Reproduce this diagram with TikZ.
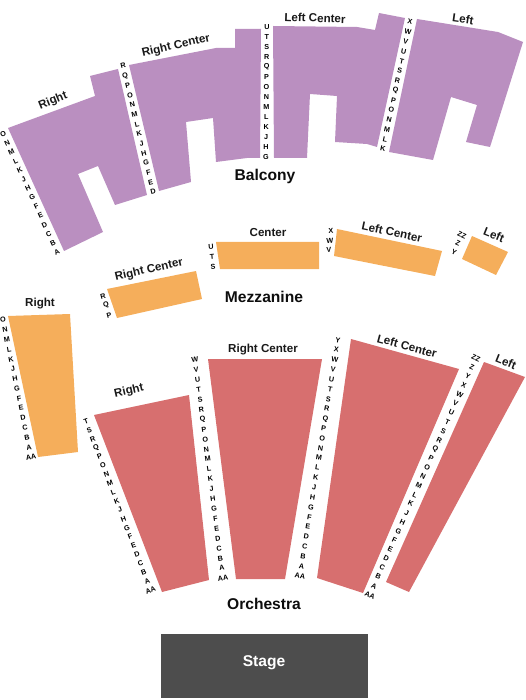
\documentclass[tikz,border=0pt]{standalone}
\usepackage{fontspec}
\setmainfont{Liberation Sans}
\definecolor{balc}{HTML}{BA8FC0}
\definecolor{mezz}{HTML}{F5AE5B}
\definecolor{orch}{HTML}{D76F6F}
\definecolor{stagec}{HTML}{4D4D4D}
\newcommand{\rowlabels}[9]{%
  \foreach \l [count=\i] in {#9} {
    \pgfmathsetmacro{\t}{(\i-1)/(#8-1)}
    \node[rowletter,rotate=#7] (#1-\i) at ({#3+(#5-#3)*\t},{#4+(#6-#4)*\t}) {\l};
  }%
}
\begin{document}
\begin{tikzpicture}[x=1pt,y=-1pt,
  rowletter/.style={inner sep=0pt,font=\fontsize{7.2}{8}\selectfont\bfseries,text=black},
  seclabel/.style={inner sep=0pt,font=\fontsize{11.6}{13}\selectfont\bfseries,text=black!90},
  levellabel/.style={inner sep=0pt,font=\fontsize{15.6}{18}\selectfont\bfseries,text=black!95},
  balcsec/.style={fill=balc,draw=none},
  mezzsec/.style={fill=mezz,draw=none},
  orchsec/.style={fill=orch,draw=none}]
\useasboundingbox (0,0) rectangle (525,700);
% Balcony
\fill[balcsec] (8,128)--(95,96)--(90,76)--(118,69)--(147,195)--(115,205)--(98,166)--(78,174)--(103,232)--(64,251)--cycle;
\fill[balcsec] (129,65)--(216,48)--(235,48)--(235,29)--(261,29)--(260,158)--(247,158)--(216,162)--(213,118)--(186,122)--(191,182)--(159,191)--cycle;
\fill[balcsec] (273,26)--(357,27)--(375,30)--(379,13)--(405,18)--(377,147)--(367,144)--(335,142)--(337,96)--(310,94)--(307,158)--(274,158)--cycle;
\fill[balcsec] (417,19)--(498,32)--(523,42)--(490,147)--(466,142)--(477,105)--(451,97)--(433,160)--(389,152)--cycle;
% Mezzanine
\fill[mezzsec] (107,289)--(196,271)--(202,299)--(117,318)--cycle;
\fill[mezzsec] (216,242)--(319,242)--(319,269)--(220,269)--cycle;
\fill[mezzsec] (337,229)--(442,251)--(435,276)--(334,256)--cycle;
\fill[mezzsec] (472,236)--(508,252)--(496,275)--(462,259)--cycle;
\fill[mezzsec] (8,316)--(70,314)--(78,452)--(38,457)--cycle;
% Orchestra
\fill[orchsec] (94,415)--(189,395)--(209,580)--(162,592)--cycle;
\fill[orchsec] (208,359)--(322,359)--(285,579)--(236,579)--cycle;
\fill[orchsec] (351,339)--(459,369)--(363,593)--(317,578)--cycle;
\fill[orchsec] (484,362)--(525,377)--(409,592)--(386,582)--cycle;
% Stage
\fill[stagec] (161,634) rectangle (368,698);
% Row letters
\rowlabels{ba}{}{3}{134}{57}{252}{25}{14}{O,N,M,L,K,J,H,G,F,E,D,C,B,A}
\rowlabels{bb}{}{123}{66}{153}{192}{13}{14}{R,Q,P,O,N,M,L,K,J,H,G,F,E,D}
\rowlabels{bc}{}{267}{27}{266}{157}{0}{14}{U,T,S,R,Q,P,O,N,M,L,K,J,H,G}
\rowlabels{bd}{}{410}{22}{383}{149}{-12}{14}{X,W,V,U,T,S,R,Q,P,O,N,M,L,K}
\rowlabels{ma}{}{103}{296}{109}{315}{15}{3}{R,Q,P}
\rowlabels{mb}{}{211}{247}{213}{267}{5}{3}{U,T,S}
\rowlabels{mc}{}{331}{231}{329}{250}{3}{3}{X,W,V}
\rowlabels{md}{}{462}{235}{454}{252}{-25}{3}{ZZ,Z,Y}
\rowlabels{me}{}{3}{320}{31}{457}{10}{15}{O,N,M,L,K,J,H,G,F,E,D,C,B,A,AA}
\rowlabels{oa}{}{86}{421}{154}{599}{20}{21}{T,S,R,Q,P,O,N,M,L,K,J,H,G,F,E,D,C,B,A,AA}
\rowlabels{ob}{}{195}{360}{223}{578}{8}{23}{W,V,U,T,S,R,Q,P,O,N,M,L,K,J,H,G,F,E,D,C,B,A,AA}
\rowlabels{oc}{}{338}{340}{300}{576}{-9}{25}{Y,X,W,V,U,T,S,R,Q,P,O,N,M,L,K,J,H,G,F,E,D,C,B,A,AA}
\rowlabels{od}{}{476}{358}{370}{595}{-25}{27}{ZZ,Z,Y,X,W,V,U,T,S,R,Q,P,O,N,M,L,K,J,H,G,F,E,D,C,B,A,AA}
% Section labels
\node[seclabel,rotate=22] (l1) at (53,101) {Right};
\node[seclabel,rotate=13] (l2) at (176,46) {Right Center};
\node[seclabel,rotate=-2] (l3) at (315,18) {Left Center};
\node[seclabel,rotate=-8] (l4) at (463,19) {Left};
\node[seclabel,rotate=13] (l5) at (149,270) {Right Center};
\node[seclabel] (l6) at (268,233) {Center};
\node[seclabel,rotate=-12] (l7) at (392,232) {Left Center};
\node[seclabel,rotate=-22] (l8) at (494,235) {Left};
\node[seclabel] (l9) at (40,304) {Right};
\node[seclabel,rotate=13] (l10) at (129,391) {Right};
\node[seclabel] (l11) at (263,350) {Right Center};
\node[seclabel,rotate=-15] (l12) at (407,346) {Left Center};
\node[seclabel,rotate=-22] (l13) at (506,362) {Left};
% Level labels
\node[levellabel] (balcony) at (265,176) {Balcony};
\node[levellabel] (mezzanine) at (264,297) {Mezzanine};
\node[levellabel] (orchestra) at (264,604) {Orchestra};
\node[levellabel,text=white] (stage) at (264,663) {Stage};
\end{tikzpicture}
\end{document}
